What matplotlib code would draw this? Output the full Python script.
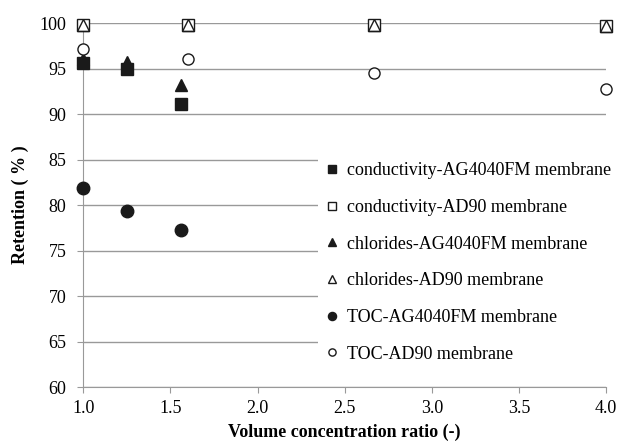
import matplotlib
matplotlib.use("Agg")
from matplotlib import pyplot as plt

plt.rcParams['font.family'] = ['Liberation Serif', 'DejaVu Serif']

# data
x_ag = [1.0, 1.25, 1.56]
x_ad = [1.0, 1.6, 2.67, 4.0]

cond_ag = [95.6, 95.0, 91.1]
cond_ad = [99.8, 99.8, 99.8, 99.7]
chl_ag = [96.0, 95.7, 93.2]
chl_ad = [99.8, 99.8, 99.8, 99.7]
toc_ag = [81.9, 79.4, 77.3]
toc_ad = [97.1, 96.1, 94.5, 92.8]

fig = plt.figure(figsize=(6.21, 4.44), dpi=100)
ax = fig.add_axes([0.134, 0.128, 0.842, 0.82])

ms = 9
k = dict(clip_on=False, zorder=3, ls='none')
ax.plot(x_ag, cond_ag, 's', color='#1a1a1a', ms=ms, label='conductivity-AG4040FM membrane', **k)
ax.plot(x_ad, cond_ad, 's', mfc='white', mec='#1a1a1a', ms=ms, mew=1.0, label='conductivity-AD90 membrane', **k)
ax.plot(x_ag, chl_ag, '^', color='#1a1a1a', ms=ms, label='chlorides-AG4040FM membrane', **k)
ax.plot(x_ad, chl_ad, '^', mfc='none', mec='#1a1a1a', ms=ms - 1, mew=1.0, label='chlorides-AD90 membrane', **k)
ax.plot(x_ag, toc_ag, 'o', color='#1a1a1a', ms=ms, label='TOC-AG4040FM membrane', **k)
ax.plot(x_ad, toc_ad, 'o', mfc='white', mec='#1a1a1a', ms=ms - 1, mew=1.0, label='TOC-AD90 membrane', **k)

ax.set_xlim(1.0, 4.0)
ax.set_ylim(60, 100)
ax.set_xticks([1.0, 1.5, 2.0, 2.5, 3.0, 3.5, 4.0])
ax.set_xticklabels(['1.0', '1.5', '2.0', '2.5', '3.0', '3.5', '4.0'])
ax.set_yticks(range(60, 101, 5))
ax.yaxis.grid(True, color='#999999', lw=1.0)
ax.set_axisbelow(True)

for s in ['top', 'right']:
    ax.spines[s].set_visible(False)
for s in ['left', 'bottom']:
    ax.spines[s].set_color('#999999')
ax.tick_params(axis='both', labelsize=13, color='#999999', length=4)
ax.tick_params(axis='x', pad=5)
ax.tick_params(axis='y', pad=8)

ax.set_xlabel('Volume concentration ratio (-)', fontsize=13, fontweight='bold', labelpad=5)
ax.set_ylabel('Retention ( % )', fontsize=13, fontweight='bold', labelpad=8)

leg = ax.legend(loc='upper left', bbox_to_anchor=(318 / 621, 1 - 155 / 444),
                bbox_transform=fig.transFigure, frameon=True, fontsize=13,
                markerscale=0.65, handlelength=0.8, handletextpad=0.4, labelspacing=1.09,
                borderpad=0.4, borderaxespad=0.0, fancybox=False)
leg.get_frame().set_facecolor('white')
leg.get_frame().set_edgecolor('none')
leg.get_frame().set_alpha(1.0)

plt.savefig("out.png", dpi=100)
